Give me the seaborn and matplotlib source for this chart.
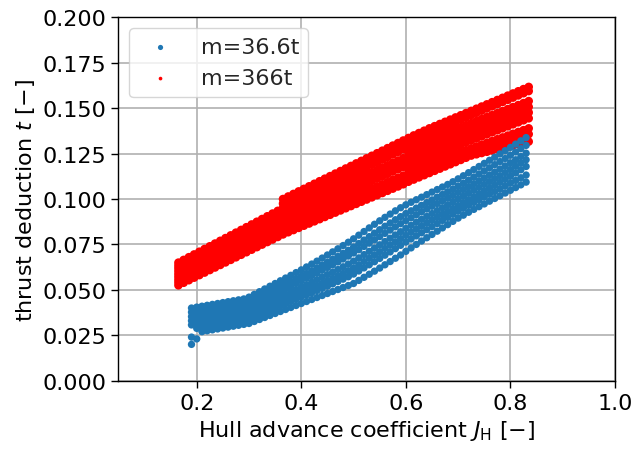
import matplotlib
matplotlib.use("Agg")
import matplotlib.pyplot as plt
from matplotlib.ticker import FormatStrFormatter
import seaborn as sns
import pandas as pd

# ---------------- data ----------------
J_blue = [0.19, 0.20, 0.21, 0.22, 0.23, 0.24, 0.25, 0.26, 0.27, 0.28, 0.29,
          0.30, 0.31, 0.32, 0.33, 0.34, 0.35, 0.36, 0.37, 0.38, 0.39,
          0.40, 0.41, 0.42, 0.43, 0.44, 0.45, 0.46, 0.47, 0.48, 0.49,
          0.50, 0.51, 0.52, 0.53, 0.54, 0.55, 0.56, 0.57, 0.58, 0.59,
          0.60, 0.61, 0.62, 0.63, 0.64, 0.65, 0.66, 0.67, 0.68, 0.69,
          0.70, 0.71, 0.72, 0.73, 0.74, 0.75, 0.76, 0.77, 0.78, 0.79,
          0.80, 0.81, 0.82, 0.83]

blue_1 = [0.0200, 0.0230, 0.0270, 0.0275, 0.0280, 0.0285, 0.0290, 0.0295, 0.0300, 0.0305, 0.0310,
          0.0315, 0.0326, 0.0337, 0.0348, 0.0359, 0.0370, 0.0381, 0.0392, 0.0403, 0.0414,
          0.0425, 0.0436, 0.0447, 0.0458, 0.0469, 0.0480, 0.0491, 0.0502, 0.0513, 0.0524,
          0.0535, 0.0552, 0.0569, 0.0586, 0.0603, 0.0620, 0.0638, 0.0656, 0.0674, 0.0692,
          0.0712, 0.0731, 0.0750, 0.0769, 0.0787, 0.0805, 0.0823, 0.0841, 0.0859, 0.0877,
          0.0895, 0.0911, 0.0927, 0.0943, 0.0958, 0.0973, 0.0988, 0.1003, 0.1018, 0.1033,
          0.1048, 0.1063, 0.1078, 0.1093]
blue_2 = [0.0240, 0.0288, 0.0293, 0.0298, 0.0303, 0.0308, 0.0313, 0.0318, 0.0323, 0.0328, 0.0333,
          0.0340, 0.0352, 0.0364, 0.0376, 0.0388, 0.0400, 0.0412, 0.0424, 0.0436, 0.0448,
          0.0460, 0.0472, 0.0484, 0.0496, 0.0508, 0.0520, 0.0533, 0.0546, 0.0559, 0.0572,
          0.0587, 0.0604, 0.0621, 0.0638, 0.0655, 0.0673, 0.0691, 0.0709, 0.0727, 0.0745,
          0.0763, 0.0780, 0.0797, 0.0814, 0.0831, 0.0848, 0.0865, 0.0882, 0.0899, 0.0916,
          0.0933, 0.0949, 0.0965, 0.0981, 0.0996, 0.1011, 0.1026, 0.1041, 0.1056, 0.1071,
          0.1087, 0.1102, 0.1117, 0.1132]
blue_3 = [0.0307, 0.0312, 0.0317, 0.0322, 0.0327, 0.0332, 0.0337, 0.0342, 0.0347, 0.0352, 0.0357,
          0.0365, 0.0377, 0.0389, 0.0401, 0.0413, 0.0425, 0.0437, 0.0449, 0.0461, 0.0473,
          0.0485, 0.0497, 0.0510, 0.0523, 0.0536, 0.0549, 0.0563, 0.0577, 0.0591, 0.0605,
          0.0620, 0.0638, 0.0656, 0.0674, 0.0692, 0.0710, 0.0728, 0.0746, 0.0764, 0.0782,
          0.0800, 0.0817, 0.0834, 0.0851, 0.0868, 0.0884, 0.0900, 0.0916, 0.0932, 0.0948,
          0.0964, 0.0980, 0.0996, 0.1012, 0.1028, 0.1044, 0.1060, 0.1076, 0.1092, 0.1108,
          0.1125, 0.1143, 0.1161, 0.1179]
blue_4 = [0.0330, 0.0335, 0.0340, 0.0345, 0.0350, 0.0355, 0.0360, 0.0365, 0.0370, 0.0375, 0.0380,
          0.0385, 0.0398, 0.0411, 0.0424, 0.0437, 0.0450, 0.0463, 0.0476, 0.0489, 0.0502,
          0.0515, 0.0528, 0.0542, 0.0556, 0.0570, 0.0584, 0.0598, 0.0612, 0.0627, 0.0642,
          0.0658, 0.0676, 0.0694, 0.0712, 0.0730, 0.0748, 0.0766, 0.0784, 0.0802, 0.0820,
          0.0838, 0.0855, 0.0872, 0.0888, 0.0904, 0.0920, 0.0936, 0.0952, 0.0968, 0.0984,
          0.1000, 0.1016, 0.1032, 0.1048, 0.1064, 0.1080, 0.1096, 0.1112, 0.1128, 0.1145,
          0.1162, 0.1180, 0.1198, 0.1216]
blue_5 = [0.0353, 0.0358, 0.0363, 0.0368, 0.0373, 0.0378, 0.0383, 0.0388, 0.0393, 0.0398, 0.0403,
          0.0410, 0.0424, 0.0438, 0.0452, 0.0466, 0.0480, 0.0494, 0.0508, 0.0522, 0.0536,
          0.0550, 0.0564, 0.0578, 0.0593, 0.0608, 0.0623, 0.0638, 0.0654, 0.0670, 0.0686,
          0.0703, 0.0721, 0.0739, 0.0757, 0.0775, 0.0793, 0.0811, 0.0829, 0.0847, 0.0864,
          0.0881, 0.0897, 0.0913, 0.0929, 0.0945, 0.0960, 0.0975, 0.0990, 0.1005, 0.1020,
          0.1036, 0.1052, 0.1068, 0.1084, 0.1100, 0.1116, 0.1132, 0.1148, 0.1165, 0.1182,
          0.1199, 0.1216, 0.1234, 0.1252]
blue_6 = [0.0377, 0.0382, 0.0387, 0.0392, 0.0397, 0.0402, 0.0407, 0.0412, 0.0417, 0.0422, 0.0427,
          0.0435, 0.0449, 0.0463, 0.0477, 0.0491, 0.0505, 0.0519, 0.0533, 0.0547, 0.0561,
          0.0575, 0.0590, 0.0605, 0.0620, 0.0636, 0.0652, 0.0668, 0.0684, 0.0701, 0.0718,
          0.0736, 0.0755, 0.0774, 0.0793, 0.0812, 0.0831, 0.0850, 0.0868, 0.0886, 0.0903,
          0.0920, 0.0935, 0.0950, 0.0965, 0.0980, 0.0995, 0.1010, 0.1025, 0.1040, 0.1055,
          0.1071, 0.1087, 0.1104, 0.1121, 0.1138, 0.1155, 0.1172, 0.1189, 0.1206, 0.1223,
          0.1241, 0.1259, 0.1277, 0.1295]
blue_7 = [0.0400, 0.0405, 0.0410, 0.0415, 0.0420, 0.0425, 0.0430, 0.0435, 0.0440, 0.0445, 0.0450,
          0.0460, 0.0475, 0.0490, 0.0505, 0.0520, 0.0535, 0.0550, 0.0565, 0.0580, 0.0595,
          0.0610, 0.0626, 0.0642, 0.0658, 0.0675, 0.0692, 0.0709, 0.0726, 0.0744, 0.0762,
          0.0781, 0.0801, 0.0821, 0.0841, 0.0861, 0.0880, 0.0899, 0.0917, 0.0935, 0.0952,
          0.0968, 0.0982, 0.0996, 0.1010, 0.1024, 0.1038, 0.1052, 0.1066, 0.1080, 0.1095,
          0.1111, 0.1128, 0.1145, 0.1162, 0.1179, 0.1196, 0.1213, 0.1230, 0.1248, 0.1266,
          0.1284, 0.1302, 0.1320, 0.1338]

J_red = [0.165, 0.175, 0.185, 0.195, 0.205, 0.215, 0.225, 0.235, 0.245, 0.255,
         0.265, 0.275, 0.285, 0.295, 0.305, 0.315, 0.325, 0.335, 0.345, 0.355,
         0.365, 0.375, 0.385, 0.395, 0.405, 0.415, 0.425, 0.435, 0.445, 0.455,
         0.465, 0.475, 0.485, 0.495, 0.505, 0.515, 0.525, 0.535, 0.545, 0.555,
         0.565, 0.575, 0.585, 0.595, 0.605, 0.615, 0.625, 0.635, 0.645, 0.655,
         0.665, 0.675, 0.685, 0.695, 0.705, 0.715, 0.725, 0.735, 0.745, 0.755,
         0.765, 0.775, 0.785, 0.795, 0.805, 0.815, 0.825, 0.835]

red_1 = [0.0525, 0.0539, 0.0553, 0.0567, 0.0581, 0.0595, 0.0609, 0.0623, 0.0637, 0.0651,
         0.0665, 0.0679, 0.0693, 0.0707, 0.0721, 0.0735, 0.0749, 0.0763, 0.0777, 0.0791,
         0.0805, 0.0817, 0.0829, 0.0841, 0.0853, 0.0865, 0.0877, 0.0889, 0.0901, 0.0913,
         0.0925, 0.0937, 0.0949, 0.0961, 0.0973, 0.0985, 0.0997, 0.1009, 0.1021, 0.1033,
         0.1045, 0.1057, 0.1069, 0.1081, 0.1095, 0.1107, 0.1119, 0.1131, 0.1143, 0.1155,
         0.1167, 0.1179, 0.1191, 0.1203, 0.1215, 0.1227, 0.1239, 0.1246, 0.1253, 0.1260,
         0.1267, 0.1274, 0.1281, 0.1288, 0.1295, 0.1302, 0.1309, 0.1316]
red_2 = [0.0541, 0.0555, 0.0569, 0.0583, 0.0597, 0.0611, 0.0625, 0.0639, 0.0653, 0.0667,
         0.0681, 0.0695, 0.0709, 0.0723, 0.0737, 0.0751, 0.0765, 0.0779, 0.0793, 0.0807,
         0.0829, 0.0841, 0.0853, 0.0865, 0.0877, 0.0889, 0.0901, 0.0913, 0.0925, 0.0937,
         0.0949, 0.0961, 0.0973, 0.0985, 0.0997, 0.1009, 0.1021, 0.1033, 0.1045, 0.1057,
         0.1069, 0.1081, 0.1093, 0.1105, 0.1127, 0.1137, 0.1147, 0.1157, 0.1167, 0.1177,
         0.1187, 0.1197, 0.1207, 0.1217, 0.1227, 0.1237, 0.1247, 0.1257, 0.1267, 0.1277,
         0.1287, 0.1297, 0.1307, 0.1317, 0.1327, 0.1337, 0.1347, 0.1357]
red_3 = [0.0556, 0.0570, 0.0584, 0.0598, 0.0612, 0.0626, 0.0640, 0.0654, 0.0668, 0.0682,
         0.0696, 0.0710, 0.0724, 0.0738, 0.0752, 0.0766, 0.0780, 0.0794, 0.0808, 0.0822,
         0.0853, 0.0865, 0.0877, 0.0889, 0.0901, 0.0913, 0.0925, 0.0937, 0.0949, 0.0961,
         0.0973, 0.0985, 0.0997, 0.1009, 0.1021, 0.1033, 0.1045, 0.1057, 0.1069, 0.1081,
         0.1093, 0.1105, 0.1117, 0.1129, 0.1159, 0.1169, 0.1179, 0.1189, 0.1199, 0.1209,
         0.1219, 0.1229, 0.1239, 0.1249, 0.1259, 0.1269, 0.1279, 0.1289, 0.1299, 0.1309,
         0.1319, 0.1329, 0.1339, 0.1349, 0.1359, 0.1369, 0.1379, 0.1389]
red_4 = [0.0572, 0.0586, 0.0600, 0.0614, 0.0628, 0.0642, 0.0656, 0.0670, 0.0684, 0.0698,
         0.0712, 0.0726, 0.0740, 0.0754, 0.0768, 0.0782, 0.0796, 0.0810, 0.0824, 0.0838,
         0.0878, 0.0891, 0.0904, 0.0917, 0.0930, 0.0943, 0.0956, 0.0969, 0.0982, 0.0995,
         0.1008, 0.1021, 0.1034, 0.1047, 0.1060, 0.1073, 0.1086, 0.1099, 0.1112, 0.1125,
         0.1138, 0.1151, 0.1164, 0.1177, 0.1191, 0.1202, 0.1213, 0.1224, 0.1235, 0.1246,
         0.1257, 0.1268, 0.1279, 0.1290, 0.1301, 0.1312, 0.1323, 0.1334, 0.1345, 0.1356,
         0.1367, 0.1378, 0.1389, 0.1400, 0.1411, 0.1422, 0.1433, 0.1444]
red_5 = [0.0587, 0.0601, 0.0615, 0.0629, 0.0643, 0.0657, 0.0671, 0.0685, 0.0699, 0.0713,
         0.0727, 0.0741, 0.0755, 0.0769, 0.0783, 0.0797, 0.0811, 0.0825, 0.0839, 0.0853,
         0.0902, 0.0915, 0.0928, 0.0941, 0.0954, 0.0967, 0.0980, 0.0993, 0.1006, 0.1019,
         0.1032, 0.1045, 0.1058, 0.1071, 0.1084, 0.1097, 0.1110, 0.1123, 0.1136, 0.1149,
         0.1162, 0.1175, 0.1188, 0.1201, 0.1223, 0.1234, 0.1245, 0.1256, 0.1267, 0.1278,
         0.1289, 0.1300, 0.1311, 0.1322, 0.1333, 0.1344, 0.1355, 0.1366, 0.1377, 0.1388,
         0.1399, 0.1410, 0.1421, 0.1432, 0.1443, 0.1454, 0.1465, 0.1476]
red_6 = [0.0603, 0.0618, 0.0633, 0.0648, 0.0663, 0.0678, 0.0693, 0.0708, 0.0723, 0.0738,
         0.0753, 0.0768, 0.0783, 0.0798, 0.0813, 0.0828, 0.0843, 0.0858, 0.0873, 0.0888,
         0.0926, 0.0939, 0.0952, 0.0965, 0.0978, 0.0991, 0.1004, 0.1017, 0.1030, 0.1043,
         0.1056, 0.1069, 0.1082, 0.1095, 0.1108, 0.1121, 0.1134, 0.1147, 0.1160, 0.1173,
         0.1186, 0.1199, 0.1212, 0.1225, 0.1254, 0.1265, 0.1276, 0.1287, 0.1298, 0.1309,
         0.1320, 0.1331, 0.1342, 0.1353, 0.1364, 0.1375, 0.1386, 0.1397, 0.1408, 0.1419,
         0.1430, 0.1441, 0.1452, 0.1463, 0.1474, 0.1485, 0.1496, 0.1507]
red_7 = [0.0619, 0.0634, 0.0649, 0.0664, 0.0679, 0.0694, 0.0709, 0.0724, 0.0739, 0.0754,
         0.0769, 0.0784, 0.0799, 0.0814, 0.0829, 0.0844, 0.0859, 0.0874, 0.0889, 0.0904,
         0.0951, 0.0965, 0.0979, 0.0993, 0.1007, 0.1021, 0.1035, 0.1049, 0.1063, 0.1077,
         0.1091, 0.1105, 0.1119, 0.1133, 0.1147, 0.1161, 0.1175, 0.1189, 0.1203, 0.1217,
         0.1231, 0.1245, 0.1259, 0.1273, 0.1286, 0.1297, 0.1308, 0.1319, 0.1330, 0.1341,
         0.1352, 0.1363, 0.1374, 0.1385, 0.1396, 0.1407, 0.1418, 0.1429, 0.1440, 0.1451,
         0.1462, 0.1473, 0.1484, 0.1495, 0.1506, 0.1517, 0.1528, 0.1539]
red_8 = [0.0634, 0.0649, 0.0664, 0.0679, 0.0694, 0.0709, 0.0724, 0.0739, 0.0754, 0.0769,
         0.0784, 0.0799, 0.0814, 0.0829, 0.0844, 0.0859, 0.0874, 0.0889, 0.0904, 0.0919,
         0.0975, 0.0989, 0.1003, 0.1017, 0.1031, 0.1045, 0.1059, 0.1073, 0.1087, 0.1101,
         0.1115, 0.1129, 0.1143, 0.1157, 0.1171, 0.1185, 0.1199, 0.1213, 0.1227, 0.1241,
         0.1255, 0.1269, 0.1283, 0.1297, 0.1318, 0.1330, 0.1342, 0.1354, 0.1366, 0.1378,
         0.1390, 0.1402, 0.1414, 0.1426, 0.1438, 0.1450, 0.1462, 0.1474, 0.1486, 0.1498,
         0.1510, 0.1522, 0.1534, 0.1546, 0.1558, 0.1570, 0.1582, 0.1594]
red_9 = [0.0650, 0.0665, 0.0680, 0.0695, 0.0710, 0.0725, 0.0740, 0.0755, 0.0770, 0.0785,
         0.0800, 0.0815, 0.0830, 0.0845, 0.0860, 0.0875, 0.0890, 0.0905, 0.0920, 0.0935,
         0.1000, 0.1014, 0.1028, 0.1042, 0.1056, 0.1070, 0.1084, 0.1098, 0.1112, 0.1126,
         0.1140, 0.1154, 0.1168, 0.1182, 0.1196, 0.1210, 0.1224, 0.1238, 0.1252, 0.1266,
         0.1280, 0.1294, 0.1308, 0.1322, 0.1336, 0.1350, 0.1363, 0.1376, 0.1389, 0.1401,
         0.1413, 0.1425, 0.1437, 0.1449, 0.1461, 0.1473, 0.1485, 0.1497, 0.1509, 0.1521,
         0.1533, 0.1545, 0.1557, 0.1569, 0.1581, 0.1593, 0.1605, 0.1617]

label_blue = "m=36.6t"
label_red = "m=366t"
x_ticks = [0.2, 0.4, 0.6, 0.8, 1.0]
y_ticks = [0.0, 0.025, 0.05, 0.075, 0.1, 0.125, 0.15, 0.175, 0.2]

# ---------------- build tables ----------------
def to_frame(J, curves, label):
    parts = []
    for c in curves:
        assert len(c) == len(J), (label, len(c), len(J))
        parts.append(pd.DataFrame({"J": J, "t": c, "series": label}))
    return pd.concat(parts, ignore_index=True)

df_blue = to_frame(J_blue, [blue_1, blue_2, blue_3, blue_4, blue_5, blue_6, blue_7], label_blue)
df_red = to_frame(J_red, [red_1, red_2, red_3, red_4, red_5, red_6, red_7, red_8, red_9], label_red)

# ---------------- plot ----------------
sns.set_style("ticks")
plt.rcParams["font.family"] = ["DejaVu Sans"]
plt.rcParams["mathtext.fontset"] = "dejavusans"

fig = plt.figure(figsize=(6.34, 4.52), dpi=100)
ax = fig.add_axes([0.1866, 0.1555, 0.970 - 0.1866, 0.9595 - 0.1555])

sns.scatterplot(data=df_blue, x="J", y="t", color="#1f77b4", s=28, linewidth=0,
                edgecolor="none", label=label_blue, ax=ax, zorder=3)
sns.scatterplot(data=df_red, x="J", y="t", color="#ff0000", s=38, linewidth=0,
                edgecolor="none", label=label_red, ax=ax, zorder=2)

ax.set_xlim(0.05, 1.0)
ax.set_ylim(0.0, 0.2)
ax.set_xticks(x_ticks)
ax.set_yticks(y_ticks)
ax.yaxis.set_major_formatter(FormatStrFormatter("%.3f"))
ax.xaxis.set_major_formatter(FormatStrFormatter("%.1f"))
ax.grid(True, color="#b0b0b0", linewidth=1.2, zorder=0)
ax.set_axisbelow(True)
for sp in ax.spines.values():
    sp.set_color("black")
    sp.set_linewidth(1.0)
ax.tick_params(axis="both", which="major", labelsize=16, length=5, width=1.0,
               color="black", labelcolor="black", direction="out")

ax.set_xlabel("Hull advance coefficient $J_\\mathrm{H}$ [\u2212]", fontsize=16, color="black")
ax.set_ylabel("thrust deduction $t$ [\u2212]", fontsize=16, color="black")

leg = ax.legend(loc="upper left", fontsize=16, frameon=True, framealpha=0.8,
                edgecolor="#cccccc", fancybox=True, scatterpoints=1,
                handletextpad=0.8, borderpad=0.4)
leg.legend_handles[0].set_sizes([14])
leg.legend_handles[1].set_sizes([7])

fig.savefig("out.png", dpi=100)
